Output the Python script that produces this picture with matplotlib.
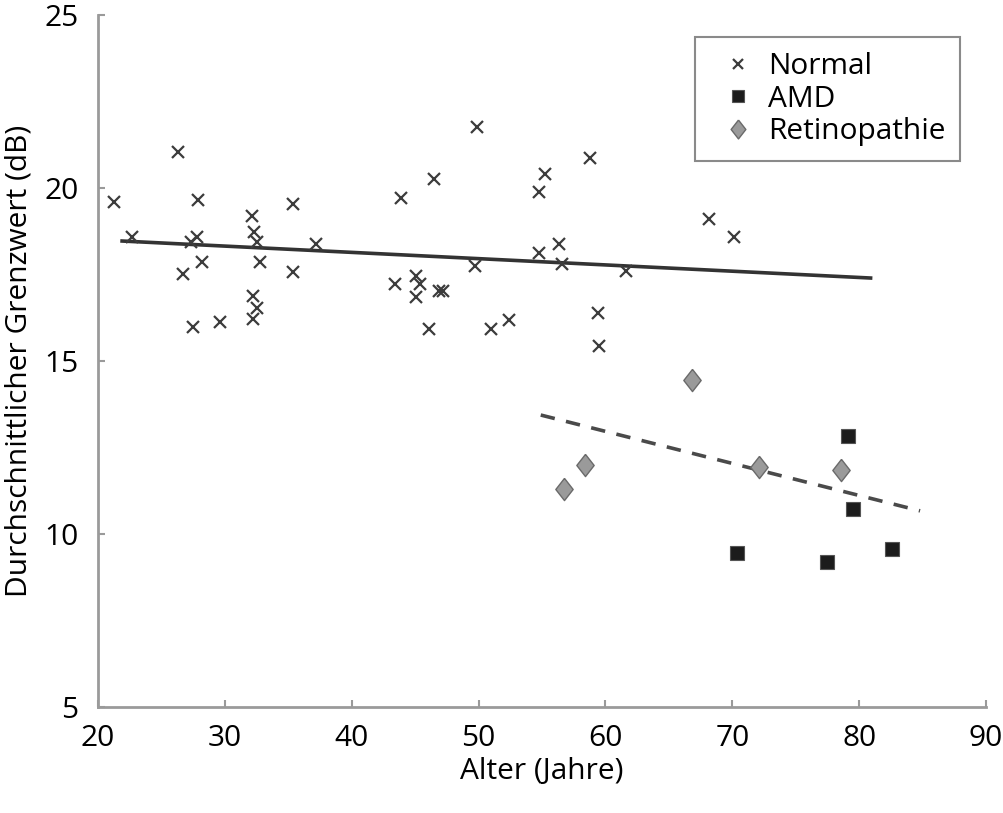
import matplotlib
matplotlib.use("Agg")
import matplotlib.pyplot as plt

plt.rcParams['font.family'] = ['Open Sans', 'DejaVu Sans']

# Normal
normal_age = [26.3, 21.3, 27.9, 35.4, 32.15, 32.3, 32.5, 22.7, 27.3, 27.8, 37.2,
              28.2, 32.8, 26.7, 35.4, 32.2, 32.5, 32.2, 27.5, 29.6,
              49.9, 58.8, 55.2, 46.5, 54.8, 43.9, 68.2, 70.1, 56.3, 54.8, 56.6,
              49.7, 61.6, 43.4, 45.1, 45.4, 45.1, 46.9, 47.2, 46.1, 51.0, 52.4,
              59.4, 59.5]
normal_db = [21.05, 19.6, 19.65, 19.54, 19.19, 18.74, 18.45, 18.6, 18.45, 18.6, 18.38,
             17.85, 17.85, 17.53, 17.56, 16.88, 16.52, 16.23, 15.99, 16.14,
             21.77, 20.88, 20.4, 20.26, 19.88, 19.7, 19.1, 18.6, 18.38, 18.13, 17.8,
             17.75, 17.6, 17.24, 17.46, 17.24, 16.84, 17.03, 17.03, 15.94, 15.94, 16.18,
             16.38, 15.43]

# AMD
amd_age = [79.1, 79.5, 70.4, 77.5, 82.6]
amd_db = [12.83, 10.72, 9.44, 9.2, 9.57]

# Retinopathie
retino_age = [66.8, 58.4, 56.7, 72.1, 78.6]
retino_db = [14.45, 11.99, 11.29, 11.94, 11.85]

# Trendlinien (Endpunkte)
trend_normal_x = [21.9, 80.9]
trend_normal_y = [18.47, 17.4]
trend_patho_x = [54.9, 84.8]
trend_patho_y = [13.44, 10.67]

fig = plt.figure(figsize=(10.04, 8.13), dpi=100)
ax = fig.add_axes([0.0976, 0.1304, 0.8845, 0.851])

ax.plot(trend_normal_x, trend_normal_y, color='#333333', lw=2.6, zorder=2)
ax.plot(trend_patho_x, trend_patho_y, color='#4a4a4a', lw=2.6,
        dashes=(4, 3.2), zorder=2)

diamond = [(0, 1), (0.78, 0), (0, -1), (-0.78, 0), (0, 1)]

ax.plot(normal_age, normal_db, ls='none', marker='x', ms=8, mew=1.6,
        color='#3c3c3c', label='Normal', zorder=3)
ax.plot(amd_age, amd_db, ls='none', marker='s', ms=10, mfc='#1c1c1c',
        mec='#555555', mew=0.8, label='AMD', zorder=3)
ax.plot(retino_age, retino_db, ls='none', marker=diamond, ms=16,
        mfc='#9a9a9a', mec='#6a6a6a', mew=1.0, label='Retinopathie', zorder=3)

ax.set_xlim(20, 90)
ax.set_ylim(5, 25)
ax.set_xticks(range(20, 91, 10))
ax.set_yticks(range(5, 26, 5))

for s in ['top', 'right']:
    ax.spines[s].set_visible(False)
for s in ['left', 'bottom']:
    ax.spines[s].set_color('#9a9a9a')
    ax.spines[s].set_linewidth(2)

ax.tick_params(direction='in', length=5, width=1.5, color='#9a9a9a',
               labelsize=21.5, pad=12)
ax.tick_params(axis='y', pad=14)

ax.set_xlabel('Alter (Jahre)', fontsize=21.5, labelpad=3)
ax.set_ylabel('Durchschnittlicher Grenzwert (dB)', fontsize=21.5, labelpad=8)

leg = ax.legend(loc='upper right', bbox_to_anchor=(0.971, 0.968), fontsize=21.5,
                fancybox=False, framealpha=1, edgecolor='#8a8a8a',
                borderaxespad=0, handletextpad=0.05, borderpad=0.5,
                labelspacing=0.12, handlelength=1.9, markerscale=0.85)
leg.get_frame().set_linewidth(1.5)

fig.savefig('out.png', dpi=100)
